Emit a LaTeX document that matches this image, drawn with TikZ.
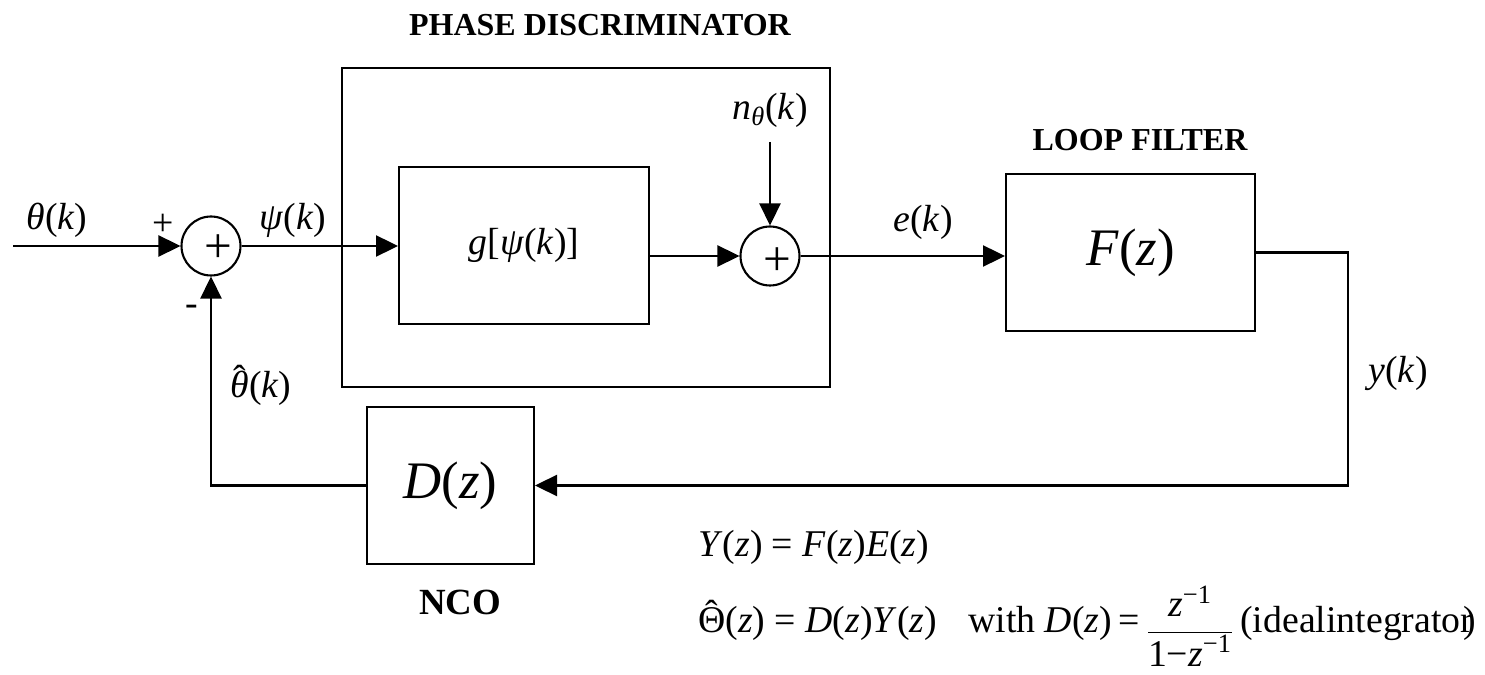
\documentclass[tikz,border=0pt]{standalone}
\usepackage{fontspec}
\setmainfont{Liberation Serif}
\usetikzlibrary{arrows.meta}

% circumflex set over a letter
\newcommand{\hatx}[2][0.12em]{\leavevmode\setbox0\hbox{#2}%
  \rlap{\hbox to \wd0{\hss\raisebox{#1}{\upshape ˆ}\hss}}\box0}

\tikzset{
  blk/.style={draw, line width=1.2pt, inner sep=0pt},
  sumc/.style={draw, circle, line width=1.2pt, minimum size=1.18cm, inner sep=0pt},
  lbl/.style={font=\fontsize{21.5}{26}\selectfont, inner sep=0pt},
  plus/.style={font=\fontsize{28}{30}\selectfont, inner sep=0pt},
  ttl/.style={font=\bfseries\fontsize{18.2}{21}\selectfont, inner sep=0pt},
  bigl/.style={font=\fontsize{30}{36}\selectfont, inner sep=0pt},
  sig/.style={line width=1.2pt, -{Triangle[length=12.5pt,width=12pt]}},
  wire/.style={line width=1.2pt}
}

\begin{document}
\begin{tikzpicture}[x=0.02cm, y=-0.02cm]
\useasboundingbox (0,0) rectangle (1485,675);

% blocks
\node[blk, minimum width=9.76cm, minimum height=6.38cm] (disc) at (586,227.5) {};
\node[blk, lbl, minimum width=5cm, minimum height=3.14cm] (gblk) at (524,245.5) {\textit{g}[\textit{ψ}(\textit{k})]};
\node[blk, bigl, minimum width=4.98cm, minimum height=3.14cm] (fblk) at (1130.5,252.5) {\textit{F}(\textit{z})};
\node[blk, bigl, minimum width=3.34cm, minimum height=3.14cm] (dblk) at (450.5,485.5) {\textit{D}(\textit{z})};

% summing points
\node[sumc] (s1) at (211,246) {};
\node[sumc] (s2) at (770,256) {};
\node[plus] (p1) at ([shift={(7,3)}]s1) {+};
\node[plus] (p2) at ([shift={(7,6)}]s2) {+};

% titles
\node[ttl] (tdisc) at (600,25) {PHASE DISCRIMINATOR};
\node[ttl] (tfilt) at (1140,140) {LOOP FILTER};
\node[ttl, font=\bfseries\fontsize{21}{24}\selectfont] (tnco) at (460,602) {NCO};

% signals
\coordinate (in) at (13,246);
\coordinate (nin) at (770,142);
\coordinate (yc) at (1348,252);
\coordinate (yb) at (1348,485.5);
\draw[sig] (in) -- (s1.west);
\draw[sig] (s1.east) -- (s1 -| gblk.west);
\draw[sig] (gblk.east |- s2) -- (s2.west);
\draw[sig] (nin) -- (s2.north);
\draw[sig] (s2.east) -- (s2 -| fblk.west);
\draw[sig] (fblk.east) -- (fblk.east -| yc) -- (yb) -- (dblk.east);
\draw[sig] (dblk.west) -| (s1.south);

% signal labels
\node[lbl] (lth) at (57,220) {\textit{θ}(\textit{k})};
\node[lbl] (lplus) at (163,225) {+};
\node[lbl] (lminus) at (192,310) {-};
\node[lbl] (lpsi) at (293,220) {\textit{ψ}(\textit{k})};
\node[lbl] (lthh) at (261,385) {\hatx[0.16em]{\textit{θ}}(\textit{k})};
\node[lbl] (lnoise) at (770,110) {\textit{n}\textsubscript{\textit{θ}}(\textit{k})};
\node[lbl] (le) at (923,222) {\textit{e}(\textit{k})};
\node[lbl] (ly) at (1398,373) {\textit{y}(\textit{k})};

% equations
\node[lbl, anchor=base west] (eqy) at (698,557) {\textit{Y}(\textit{z}) = \textit{F}(\textit{z})\textit{E}(\textit{z})};
\node[lbl, anchor=base west] (eqd) at (698,632) {\hatx[0.14em]{Θ}(\textit{z}) = \textit{D}(\textit{z})\textit{Y}(\textit{z})};
\node[lbl, anchor=base east] (eqw) at (1140,632) {with \textit{D}(\textit{z})\,=};
\node[lbl] (eqf) at (1190,626) {$\displaystyle\frac{\hbox{\textit{z}\textsuperscript{−1}}}{\hbox{1−\textit{z}\textsuperscript{−1}}}$};
\node[lbl, anchor=base west] (eqi) at (1240,632) {(idealintegrator\kern-0.25em)};
\end{tikzpicture}
\end{document}
